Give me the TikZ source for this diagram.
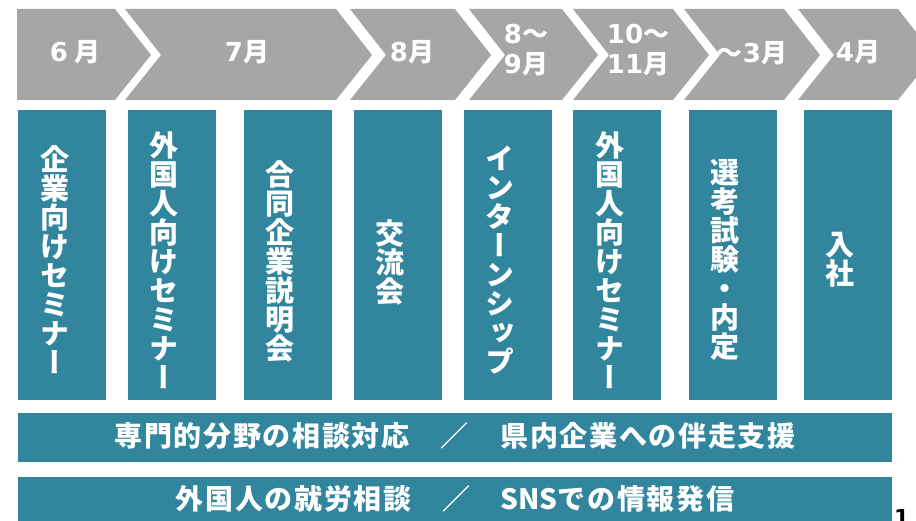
\documentclass[tikz,border=0pt]{standalone}
\usepackage{fontspec}
\setmainfont{Noto Sans CJK JP}
\newfontfamily\vjp{Noto Sans CJK JP}[RawFeature=+vert]
\newfontfamily\barjp{Noto Sans CJK JP}[LetterSpace=6]
\newfontfamily\dv{DejaVu Sans}
\definecolor{chevgray}{HTML}{A6A6A6}
\definecolor{teal}{HTML}{31859C}
\tikzset{
  monthlabel/.style={text=white, inner sep=0pt, font=\bfseries\fontsize{26}{30}\selectfont, align=left},
  bluebox/.style={fill=teal, draw=none, minimum width=88pt, minimum height=290pt, inner sep=0pt},
  vlabel/.style={text=white, inner sep=0pt, font=\vjp\bfseries\fontsize{29}{29}\selectfont, align=center},
  bar/.style={fill=teal, draw=none, minimum width=874pt, inner sep=0pt},
  barlabel/.style={text=white, inner sep=0pt, font=\barjp\bfseries\fontsize{28}{28}\selectfont},
  pagenum/.style={text=black, inner sep=0pt, font=\dv\bfseries\fontsize{22}{22}\selectfont}
}
\begin{document}
\begin{tikzpicture}[x=1pt,y=-1pt]
\useasboundingbox (0,0) rectangle (916,521);
% chevrons
\fill[chevgray] (17,9) -- (115,9) -- (151,55) -- (115,100) -- (17,100) -- cycle;
\foreach \xl/\xr in {125/336, 350/455, 469/562, 573/673, 684/784, 798/898}{
  \fill[chevgray] (\xl,9) -- (\xr,9) -- ({\xr+36},55) -- (\xr,100) -- (\xl,100) -- ({\xl+36},55) -- cycle;
}
\node[monthlabel] (m1) at (75,52) {{\dv 6} 月};
\node[monthlabel] (m2) at (247,52) {{\dv 7}月};
\node[monthlabel] (m3) at (412,52) {{\dv 8}月};
\node[monthlabel] (m4) at (526,50) {{\dv 8}～\\{\dv 9}月};
\node[monthlabel] (m5) at (638,50) {{\dv 10}～\\{\dv 11}月};
\node[monthlabel] (m6) at (752,53) {～{\dv 3}月};
\node[monthlabel] (m7) at (858,52) {{\dv 4}月};
% blue boxes
\node[bluebox] (b1) at (62,255) {};
\node[bluebox] (b2) at (172,255) {};
\node[bluebox] (b3) at (288,255) {};
\node[bluebox] (b4) at (398,255) {};
\node[bluebox] (b5) at (508,255) {};
\node[bluebox] (b6) at (617,255) {};
\node[bluebox] (b7) at (733,255) {};
\node[bluebox] (b8) at (848,255) {};
\node[vlabel] (t1) at (55,260) {企\\業\\向\\け\\セ\\ミ\\ナ\\ー};
\node[vlabel] (t2) at (164,260) {外\\国\\人\\向\\け\\セ\\ミ\\ナ\\ー};
\node[vlabel] (t3) at (280,261) {合\\同\\企\\業\\説\\明\\会};
\node[vlabel] (t4) at (390,262) {交\\流\\会};
\node[vlabel] (t5) at (500,260) {イ\\ン\\タ\\ー\\ン\\シ\\ッ\\プ};
\node[vlabel] (t6) at (610,260) {外\\国\\人\\向\\け\\セ\\ミ\\ナ\\ー};
\node[vlabel] (t7) at (725,260) {選\\考\\試\\験\\・\\内\\定};
\node[vlabel] (t8) at (840,260) {入\\社};
% bars
\node[bar, minimum height=49pt] (bar1) at (455,437.5) {};
\node[bar, minimum height=50pt] (bar2) at (455,502) {};
\node[barlabel] (l1) at (455,436) {専門的分野の相談対応　／　県内企業への伴走支援};
\node[barlabel] (l2) at (455,499) {外国人の就労相談　／　{\setmainfont{Noto Sans CJK JP}\bfseries SNS}での情報発信};
% page number
\node[pagenum, anchor=north west] (pn) at (894,509) {1};
\end{tikzpicture}
\end{document}
